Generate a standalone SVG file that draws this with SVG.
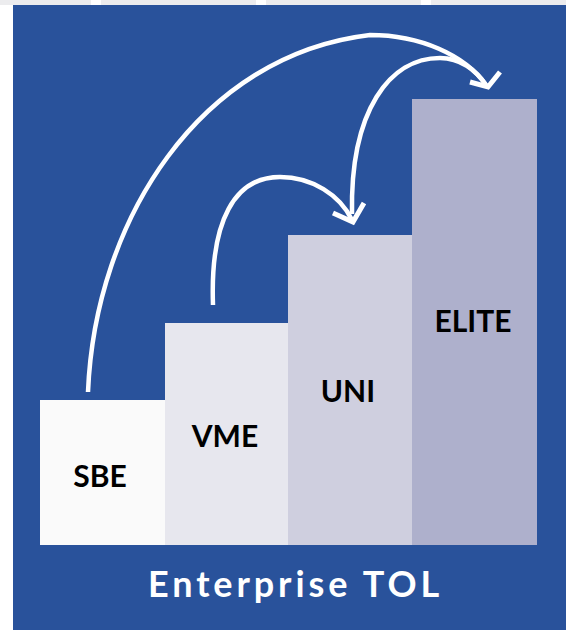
<svg xmlns="http://www.w3.org/2000/svg" width="566" height="630" viewBox="0 0 566 630">
<style>
.lbl{font-family:Lato,"Open Sans","Liberation Sans",sans-serif;font-weight:bold;font-size:30px;fill:#000}
.arc{fill:none;stroke:#fff;stroke-width:4.5;stroke-linecap:butt}
.head{fill:none;stroke:#fff;stroke-width:5;stroke-linejoin:miter;stroke-linecap:butt}
.title{font-family:Lato,"Open Sans","Liberation Sans",sans-serif;font-weight:bold;font-size:36px;fill:#fff;letter-spacing:3.9px}
</style>
<rect x="0" y="0" width="566" height="630" fill="#ffffff"/>
<rect x="0" y="0" width="566" height="5" fill="#ececee"/>
<rect x="91" y="0" width="10" height="5" fill="#ffffff"/>
<rect x="256" y="0" width="10" height="5" fill="#ffffff"/>
<rect x="421" y="0" width="10" height="5" fill="#ffffff"/>
<rect x="13" y="5" width="553" height="625" fill="#29529b"/>
<g id="sbe">
<rect x="40" y="400" width="125" height="145" fill="#fafafa"/>
<text class="lbl" x="100" y="487" text-anchor="middle">SBE</text>
</g>
<g id="vme">
<rect x="165" y="323" width="123" height="222" fill="#e7e7ee"/>
<text class="lbl" x="225" y="447" text-anchor="middle">VME</text>
</g>
<g id="uni">
<rect x="288" y="235" width="124" height="310" fill="#cfcfdf"/>
<text class="lbl" x="348" y="402" text-anchor="middle">UNI</text>
</g>
<g id="elite">
<rect x="412" y="99" width="125" height="446" fill="#aeb0cc"/>
<text class="lbl" x="473" y="332" text-anchor="middle">ELITE</text>
</g>
<g id="connectors">
<path class="arc" d="M88,392 C95,220 200,55 370,35 C420,35 465,55 486,85"/>
<path class="arc" d="M352,214 C350,110 390,58 440,58 C460,58 476,70 486,85"/>
<path class="arc" d="M213,305 C210,220 235,177 280,177 C312,177 340,195 352,220"/>
<polyline class="head" points="470,82 488,87 500,72"/>
<polyline class="head" points="333,213 353,222 364,203"/>
</g>
<text class="title" x="148" y="597">Enterprise TOL</text>
</svg>
